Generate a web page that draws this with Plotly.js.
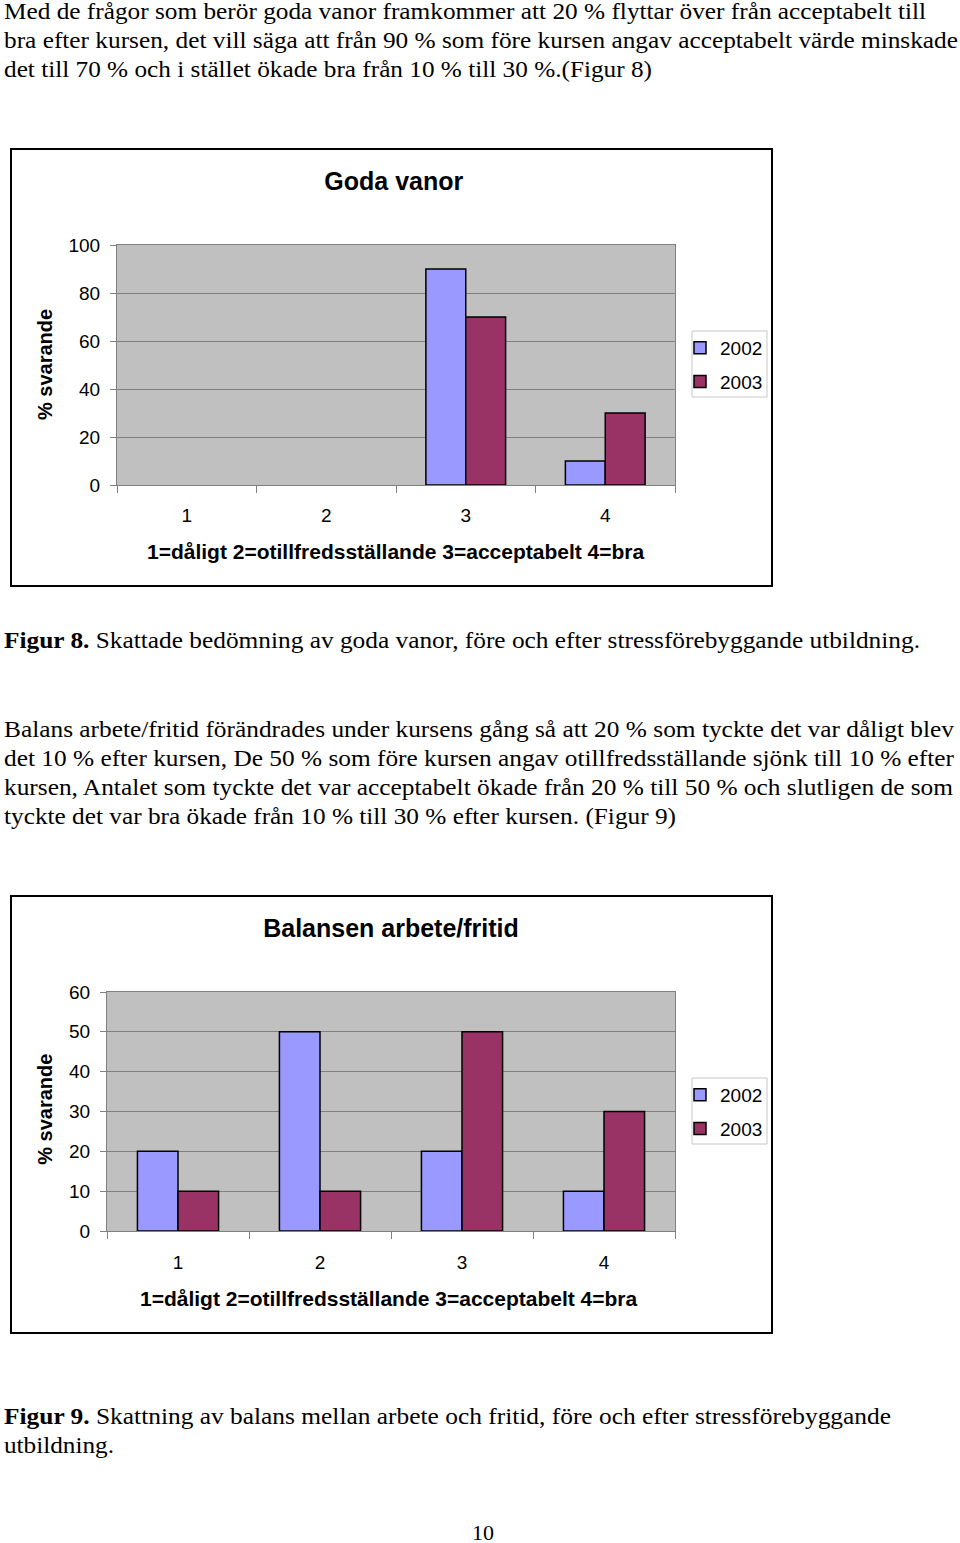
<!DOCTYPE html>
<html><head><meta charset="utf-8">
<script src="https://cdn.plot.ly/plotly-3.0.1.min.js"></script>
<style>
html,body{margin:0;padding:0;background:#fff;}
body{width:960px;height:1543px;position:relative;overflow:hidden;font-family:"Liberation Serif","Times New Roman",serif;color:#000;}
.ln{position:absolute;left:4px;white-space:nowrap;font-size:23px;line-height:29px;height:29px;transform-origin:0 0;}
.box{position:absolute;left:10px;width:763px;height:439px;border:2px solid #000;box-sizing:border-box;}
.chart{position:absolute;left:0;top:0;width:759px;height:435px;}
#pg{position:absolute;left:483px;transform:translateX(-50%);font-size:22px;line-height:29px;top:1518px;}
</style></head>
<body>
<div class="ln" data-r="926" data-b="19">Med de frågor som berör goda vanor framkommer att 20 % flyttar över från acceptabelt till</div>
<div class="ln" data-r="958" data-b="48">bra efter kursen, det vill säga att från 90 % som före kursen angav acceptabelt värde minskade</div>
<div class="ln" data-r="652" data-b="77">det till 70 % och i stället ökade bra från 10 % till 30 %.(Figur 8)</div>

<div class="box" style="top:148px;"><div id="c1" class="chart"></div></div>

<div class="ln" data-r="920" data-b="648"><b>Figur 8.</b> Skattade bedömning av goda vanor, före och efter stressförebyggande utbildning.</div>

<div class="ln" data-r="954" data-b="737">Balans arbete/fritid förändrades under kursens gång så att 20 % som tyckte det var dåligt blev</div>
<div class="ln" data-r="954" data-b="766">det 10 % efter kursen, De 50 % som före kursen angav otillfredsställande sjönk till 10 % efter</div>
<div class="ln" data-r="953" data-b="795">kursen, Antalet som tyckte det var acceptabelt ökade från 20 % till 50 % och slutligen de som</div>
<div class="ln" data-r="676" data-b="824">tyckte det var bra ökade från 10 % till 30 % efter kursen. (Figur 9)</div>

<div class="box" style="top:895px;"><div id="c2" class="chart"></div></div>

<div class="ln" data-r="891" data-b="1424"><b>Figur 9.</b> Skattning av balans mellan arbete och fritid, före och efter stressförebyggande</div>
<div class="ln" data-r="114" data-b="1453">utbildning.</div>

<div id="pg">10</div>

<script>
// ---- data ----
const categories = ['1', '2', '3', '4'];
const seriesNames = ['2002', '2003'];
const godaVanor2002 = [0, 0, 90, 10];
const godaVanor2003 = [0, 0, 70, 30];
const balansen2002 = [20, 50, 20, 10];
const balansen2003 = [10, 10, 50, 30];
const title1 = 'Goda vanor';
const title2 = 'Balansen arbete/fritid';
const yTitle = '% svarande';
const xTitle = '1=dåligt 2=otillfredsställande 3=acceptabelt 4=bra';

// ---- text line fitting ----
document.querySelectorAll('.ln').forEach(el => {
  const b = +el.dataset.b, r = +el.dataset.r;
  el.style.top = (b - 22) + 'px';
  const w = el.getBoundingClientRect().width;
  el.style.transform = 'scaleX(' + ((r - 4) / w) + ')';
});

const colors = ['#9999FF', '#993366'];
const FONT = '"Liberation Sans", Arial, Helvetica, sans-serif';

function makeTraces(a, b) {
  return [a, b].map((vals, i) => ({
    type: 'bar',
    x: categories,
    y: vals,
    name: seriesNames[i],
    legendgroup: 'g' + i,
    marker: { color: colors[i], line: { color: '#000', width: vals.map(v => v === 0 ? 0 : 1.5) } },
    hoverinfo: 'x+y+name'
  }));
}

function makeLayout(o) {
  const W = 759, H = 435;
  const pw = W - o.l - o.r, ph = H - o.t - o.b;
  const px = v => (v - o.l) / pw;          // div x pixel -> paper
  const py = v => (H - o.b - v) / ph;      // div y pixel -> paper
  return {
    width: W, height: H,
    margin: { l: o.l, r: o.r, t: o.t, b: o.b, pad: 0, autoexpand: false },
    paper_bgcolor: '#ffffff', plot_bgcolor: '#C0C0C0',
    font: { family: FONT, size: 19, color: '#000' },
    title: { text: '<b>' + o.title + '</b>', font: { family: FONT, size: 25, color: '#000' },
      x: o.titleX, xref: 'paper', xanchor: 'center', y: 1 - 31 / H, yref: 'container', yanchor: 'middle' },
    barmode: 'group', bargap: 1.5 / 3.5, bargroupgap: 0,
    showlegend: true,
    legend: { x: px(668), y: py(179), xanchor: 'left', yanchor: 'top',
      xref: 'paper', yref: 'paper',
      bgcolor: 'rgba(0,0,0,0)', borderwidth: 0, font: { family: FONT, size: 19 },
      tracegroupgap: 6, traceorder: 'grouped' },
    shapes: [
      { type: 'rect', xref: 'paper', yref: 'paper', x0: px(680), x1: px(755), y0: py(181), y1: py(247),
        line: { color: '#c8c8c8', width: 1 }, fillcolor: '#ffffff', layer: 'above' }
    ],
    xaxis: { type: 'category', tickson: 'boundaries', ticks: 'outside', ticklen: 7, tickcolor: '#808080',
      showline: true, linecolor: '#808080', linewidth: 1, mirror: true, showgrid: false,
      ticklabelstandoff: o.xstand, tickfont: { family: FONT, size: 19 }, fixedrange: true },
    yaxis: { range: [0, o.ymax], tick0: 0, dtick: o.dtick, ticks: 'outside', ticklen: 6, tickcolor: '#808080',
      showline: true, linecolor: '#808080', linewidth: 1, mirror: true, showgrid: true,
      gridcolor: '#808080', gridwidth: 1, zeroline: false, ticklabelstandoff: 6,
      tickfont: { family: FONT, size: 19 }, fixedrange: true },
    annotations: [
      { text: '<b>' + yTitle + '</b>', textangle: -90, xref: 'paper', yref: 'paper',
        x: px(33), y: o.yTitleY, xanchor: 'center', yanchor: 'middle', showarrow: false,
        font: { family: FONT, size: 20, color: '#000' } },
      { text: '<b>' + xTitle + '</b>', xref: 'paper', yref: 'paper',
        x: o.xTitleX, y: py(401), xanchor: 'center', yanchor: 'middle', showarrow: false,
        font: { family: FONT, size: 21, color: '#000' } }
    ]
  };
}

function fixLegend(gd) {
  gd.querySelectorAll('.legendpoints path').forEach(p => {
    p.style.strokeWidth = '1.5px';
    p.style.stroke = '#000';
  });
}

const cfg = { displayModeBar: false, staticPlot: true };
Plotly.newPlot('c1', makeTraces(godaVanor2002, godaVanor2003),
  makeLayout({ l: 105, r: 96, t: 95, b: 100, ymax: 100, dtick: 20, title: title1, titleX: 0.496, yTitleY: 0.5, xstand: 13, xTitleX: 0.5 }), cfg).then(fixLegend);
Plotly.newPlot('c2', makeTraces(balansen2002, balansen2003),
  makeLayout({ l: 95, r: 96, t: 95, b: 101, ymax: 60, dtick: 10, title: title2, titleX: 0.5, yTitleY: 0.507, xstand: 14, xTitleX: 0.497 }), cfg).then(fixLegend);
</script>
</body></html>
